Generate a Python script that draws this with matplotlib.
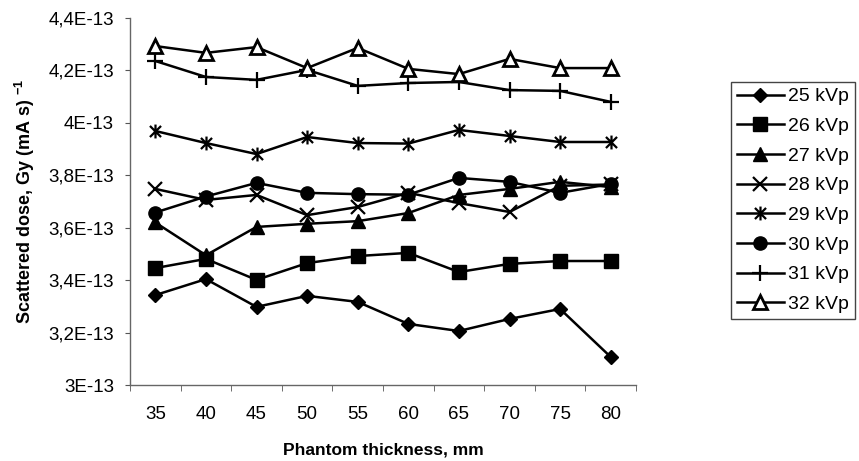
import matplotlib
matplotlib.use("Agg")
import matplotlib.pyplot as plt
from matplotlib.path import Path
from matplotlib.ticker import FuncFormatter, FixedLocator

plt.rcParams['font.family'] = ['Liberation Sans', 'DejaVu Sans']
plt.rcParams['mathtext.fontset'] = 'custom'
plt.rcParams['mathtext.rm'] = 'Liberation Sans'
plt.rcParams['mathtext.bf'] = 'Liberation Sans:bold'

thickness = [35, 40, 45, 50, 55, 60, 65, 70, 75, 80]
series_labels = ['25 kVp', '26 kVp', '27 kVp', '28 kVp', '29 kVp', '30 kVp', '31 kVp', '32 kVp']
kvp25 = [3.343, 3.404, 3.298, 3.340, 3.317, 3.233, 3.206, 3.252, 3.290, 3.107]
kvp26 = [3.446, 3.481, 3.401, 3.465, 3.492, 3.504, 3.431, 3.462, 3.473, 3.473]
kvp27 = [3.620, 3.495, 3.603, 3.615, 3.625, 3.656, 3.725, 3.748, 3.775, 3.755]
kvp28 = [3.748, 3.706, 3.725, 3.648, 3.679, 3.733, 3.694, 3.660, 3.760, 3.765]
kvp29 = [3.969, 3.923, 3.881, 3.946, 3.923, 3.921, 3.973, 3.950, 3.927, 3.927]
kvp30 = [3.658, 3.719, 3.771, 3.733, 3.728, 3.726, 3.790, 3.775, 3.733, 3.767]
kvp31 = [4.236, 4.175, 4.164, 4.202, 4.141, 4.152, 4.156, 4.125, 4.122, 4.080]
kvp32 = [4.293, 4.267, 4.289, 4.209, 4.286, 4.206, 4.186, 4.244, 4.209, 4.209]
y_ticks = [3.0, 3.2, 3.4, 3.6, 3.8, 4.0, 4.2, 4.4]
scale = 1e-13

all_series = [kvp25, kvp26, kvp27, kvp28, kvp29, kvp30, kvp31, kvp32]

aster = Path([(-1, -1), (1, 1), (-1, 1), (1, -1), (0, -1.25), (0, 1.25)],
             [Path.MOVETO, Path.LINETO, Path.MOVETO, Path.LINETO, Path.MOVETO, Path.LINETO])

styles = [
    dict(marker='D', ms=7, mfc='black', mec='black', mew=1),
    dict(marker='s', ms=9.5, mfc='black', mec='black', mew=1),
    dict(marker='^', ms=9.5, mfc='black', mec='black', mew=1),
    dict(marker='x', ms=9.5, mfc='none', mec='black', mew=1.6),
    dict(marker=aster, ms=10, mfc='none', mec='black', mew=1.6),
    dict(marker='o', ms=9.5, mfc='black', mec='black', mew=1),
    dict(marker='+', ms=12, mfc='none', mec='black', mew=1.6),
    dict(marker='^', ms=10, mfc='white', mec='black', mew=2),
]

fig = plt.figure(figsize=(8.59, 4.61), dpi=100)
ax = fig.add_axes([130/859, 1 - 385/461, (636-130)/859, (385-18)/461])

xs = list(range(len(thickness)))
for vals, lab, st in zip(all_series, series_labels, styles):
    ax.plot(xs, [v * scale for v in vals], color='black', lw=1.8, label=lab, **st)

ax.set_xlim(-0.5, len(thickness) - 0.5)
ax.set_ylim(y_ticks[0] * scale, y_ticks[-1] * scale)
ax.set_xticks(xs)
ax.set_xticklabels([str(t) for t in thickness])
ax.xaxis.set_minor_locator(FixedLocator([i - 0.5 for i in range(len(thickness) + 1)]))
ax.tick_params(axis='x', which='major', length=0, pad=15, labelsize=13.5)
ax.tick_params(axis='x', which='minor', length=4, color='#555555', direction='out')
ax.set_yticks([t * scale for t in y_ticks])

def fmt(v, pos):
    m = v / scale
    s = ('%.1f' % m).rstrip('0').rstrip('.')
    return s.replace('.', ',') + 'E-13'

ax.yaxis.set_major_formatter(FuncFormatter(fmt))
ax.tick_params(axis='y', length=3.5, color='#555555', direction='out', labelsize=13.5, pad=8)

for sp in ['top', 'right']:
    ax.spines[sp].set_visible(False)
for sp in ['left', 'bottom']:
    ax.spines[sp].set_color('#666666')
    ax.spines[sp].set_linewidth(1.0)

ax.set_xlabel('Phantom thickness, mm', fontsize=12.5, fontweight='bold', labelpad=14)
ax.set_ylabel(r'Scattered dose, Gy (mA s) $^{\mathbf{-1}}$', fontsize=13, fontweight='bold', labelpad=8)

leg = ax.legend(loc='upper left', bbox_to_anchor=(731/859, 1 - 82/461), bbox_transform=fig.transFigure,
                fontsize=14, frameon=True, fancybox=False, framealpha=1, edgecolor='#444444',
                handlelength=2.4, handletextpad=0.25, labelspacing=0.62, borderpad=0.3, borderaxespad=0)
leg.get_frame().set_linewidth(1.0)

fig.savefig('out.png', dpi=100)
